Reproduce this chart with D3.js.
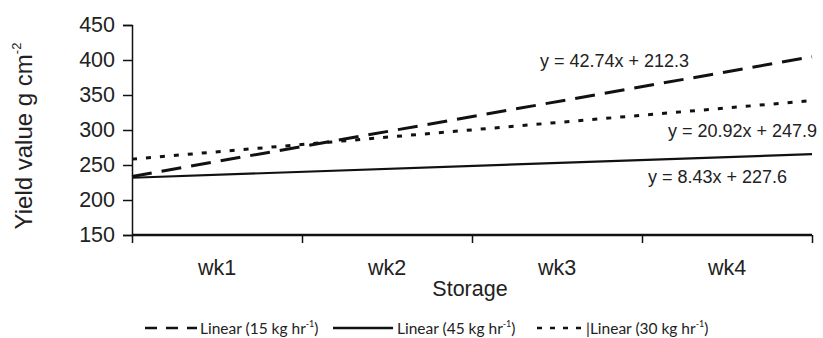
<!DOCTYPE html>
<html>
<head>
<meta charset="utf-8">
<script src="https://cdn.jsdelivr.net/npm/d3@7"></script>
<style>
  body { margin: 0; background: #fff; }
  text { fill: #222; }
</style>
</head>
<body>
<script>
// weeks of storage and fitted trend lines
const weeks = ['wk1', 'wk2', 'wk3', 'wk4'];
const seriesRates = ['15', '45', '30'];
const equations = ['y = 42.74x + 212.3', 'y = 8.43x + 227.6', 'y = 20.92x + 247.9'];
const startValues = [233.7, 231.8, 258.4];
const endValues = [404.6, 265.5, 342.0];
const yTicks = [150, 200, 250, 300, 350, 400, 450];

const width = 823;
const height = 338;
const dashes = ['20,10', null, '5,9'];
const strokeW = [3, 2.2, 3];
const eqPos = [[540, 67], [648, 183], [668, 137]];
const axisFont = 'Liberation Sans, Arial, sans-serif';

const svg = d3.select('body').append('svg').attr('width', width).attr('height', height);

const x = d3.scaleLinear().domain([0.5, 4.5]).range([132, 812]);
const y = d3.scaleLinear().domain([150, 450]).range([235, 25]);

// y axis
const yAxis = svg.append('g').attr('transform', 'translate(132,0)')
  .call(d3.axisLeft(y).tickValues(yTicks).tickSize(9).tickPadding(8).tickFormat(d3.format('d')));
yAxis.select('.domain').attr('stroke', '#111').attr('stroke-width', 1.5);
yAxis.selectAll('.tick line').attr('stroke', '#111').attr('stroke-width', 1.5);
yAxis.selectAll('.tick text').attr('font-family', axisFont).attr('font-size', 21.5).attr('fill', '#222');

// x axis: ticks between categories, labels centred
const xAxis = svg.append('g').attr('transform', 'translate(0,235)')
  .call(d3.axisBottom(x).tickValues([0.5, 1.5, 2.5, 3.5, 4.5]).tickSize(8).tickFormat(''));
xAxis.select('.domain').attr('stroke', '#111').attr('stroke-width', 2.5).attr('d', 'M132,0H812');
xAxis.selectAll('.tick line').attr('stroke', '#111').attr('stroke-width', 1.5);

svg.append('g').selectAll('text').data(weeks).join('text')
  .attr('x', (d, i) => x(i + 1))
  .attr('y', 275)
  .attr('text-anchor', 'middle')
  .attr('font-family', axisFont)
  .attr('font-size', 21.5)
  .text(d => d);

svg.append('text')
  .attr('x', 470).attr('y', 296)
  .attr('text-anchor', 'middle')
  .attr('font-family', axisFont)
  .attr('font-size', 21.5)
  .text('Storage');

const yl = svg.append('text')
  .attr('transform', 'translate(32,136) rotate(-90)')
  .attr('text-anchor', 'middle')
  .attr('font-family', axisFont)
  .attr('font-size', 24);
yl.append('tspan').text('Yield value g cm');
yl.append('tspan').attr('font-size', 13).attr('dy', -11).text('-2');

// trend lines
const line = d3.line().x(d => x(d[0])).y(d => y(d[1]));
svg.append('g').selectAll('path').data(seriesRates).join('path')
  .attr('d', (d, i) => line([[0.5, startValues[i]], [4.5, endValues[i]]]))
  .attr('fill', 'none')
  .attr('stroke', '#111')
  .attr('stroke-width', (d, i) => strokeW[i])
  .attr('stroke-dasharray', (d, i) => dashes[i]);

svg.append('g').selectAll('text').data(equations).join('text')
  .attr('x', (d, i) => eqPos[i][0])
  .attr('y', (d, i) => eqPos[i][1])
  .attr('font-family', axisFont)
  .attr('font-size', 18)
  .text(d => d);

// legend
const legendItems = [
  { x0: 145, x1: 197, dash: '12,9', text: 200, pre: '' },
  { x0: 333, x1: 393, dash: null, text: 397, pre: '' },
  { x0: 537, x1: 583, dash: '5,8', text: 586, pre: '|' }
];
const lg = svg.append('g').selectAll('g').data(seriesRates).join('g');
lg.append('line')
  .attr('x1', (d, i) => legendItems[i].x0)
  .attr('x2', (d, i) => legendItems[i].x1)
  .attr('y1', 328).attr('y2', 328)
  .attr('stroke', '#111')
  .attr('stroke-width', 2.5)
  .attr('stroke-dasharray', (d, i) => legendItems[i].dash);
const lt = lg.append('text')
  .attr('x', (d, i) => legendItems[i].text)
  .attr('y', 334)
  .attr('font-family', 'Lato, "Open Sans", sans-serif')
  .attr('font-size', 15.5)
  .attr('fill', '#333');
lt.append('tspan').text((d, i) => legendItems[i].pre + 'Linear (' + d + ' kg hr');
lt.append('tspan').attr('font-size', 9).attr('dy', -7).text('-1');
lt.append('tspan').attr('dy', 7).text(')');
</script>
</body>
</html>
